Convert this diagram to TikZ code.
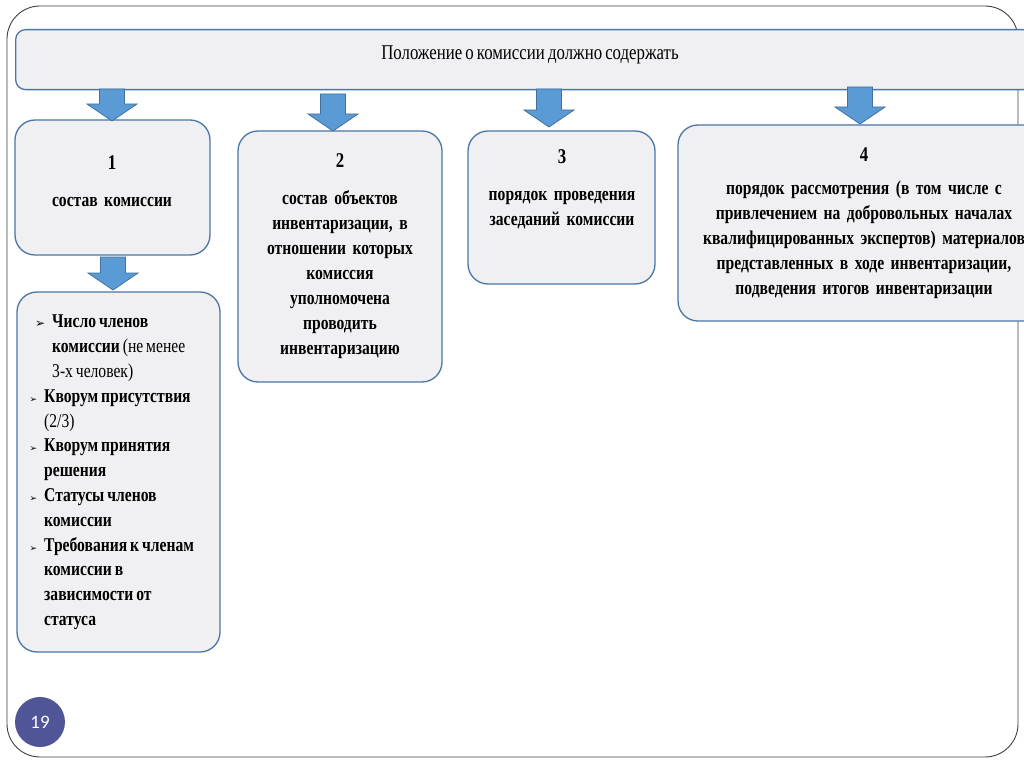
\documentclass[tikz,border=0pt]{standalone}
\usepackage{fontspec}
\setmainfont{Liberation Serif}
\newfontfamily\tnr[FakeStretch=0.8,WordSpace=0.75]{Liberation Serif}
\newfontfamily\bulletfont{DejaVu Sans}
\newfontfamily\numfont{Carlito}
\definecolor{boxfill}{HTML}{F0F0F2}
\definecolor{boxline}{HTML}{4A76A8}
\definecolor{arrfill}{HTML}{5B9BD5}
\definecolor{arrline}{HTML}{41719C}
\definecolor{frameline}{HTML}{404040}
\definecolor{pagecirc}{HTML}{4F5597}
\tikzset{
  card/.style={draw=boxline, line width=1.3pt, fill=boxfill, rounded corners=20pt},
  cardtext/.style={font=\tnr\bfseries\fontsize{19.5}{25}\selectfont, align=center, text width=#1},
  blockarr/.style={draw=arrline, line width=0.8pt, fill=arrfill},
}
\newcommand{\blockarrow}[3]{% x, ytop, ytip
  \draw[blockarr] (#1-12.5,#2) -- (#1+12.5,#2) -- (#1+12.5,#3-17) -- (#1+25,#3-17) -- (#1,#3) -- (#1-25,#3-17) -- (#1-12.5,#3-17) -- cycle;}
\newcommand{\bul}{\makebox[0pt][r]{{\bulletfont\fontsize{9}{9}\selectfont ➢}\hspace{7pt}}}
\newcommand{\num}[1]{{\fontsize{21}{25}\selectfont #1}}
\begin{document}
\begin{tikzpicture}[x=1pt,y=-1pt]
\useasboundingbox (0,0) rectangle (1024,767);
\fill[white] (0,0) rectangle (1024,767);
% outer frame
\draw[frameline, line width=0.9pt, rounded corners=33pt] (7,6) rectangle (1018,757);
% banner
\node[draw=boxline, line width=1.3pt, fill=boxfill, rounded corners=10pt, minimum width=1040pt, minimum height=60pt, anchor=north west] (head) at (15,29) {};
\node[font=\tnr\fontsize{21}{22}\selectfont] (headtext) at (530,55) {Положение о комиссии должно содержать};
% cards
\draw[card] (15,120) rectangle (210,255);
\node[cardtext=190pt] (t1) at (112,181) {\num{1}\\[12pt]состав комиссии};
\draw[card] (238,131) rectangle (442,382);
\node[cardtext=200pt] (t2) at (340,256) {\num{2}\\[12pt]состав объектов\\инвентаризации, в\\отношении которых\\комиссия\\уполномочена\\проводить\\инвентаризацию};
\draw[card] (468,131) rectangle (655,284);
\node[cardtext=185pt] (t3) at (562,189) {\num{3}\\[12pt]порядок проведения\\заседаний комиссии};
\draw[card] (678,125) rectangle (1060,321);
\node[cardtext=360pt] (t4) at (864,223) {\num{4}\\[8pt]порядок рассмотрения (в том числе с\\привлечением на добровольных началах\\квалифицированных экспертов) материалов\\представленных в ходе инвентаризации,\\подведения итогов инвентаризации};
\draw[card] (17,292) rectangle (220,652);
\node[font=\tnr\bfseries\fontsize{19.5}{24.8}\selectfont, align=left, anchor=north west, inner sep=0pt] (t5) at (44,315) {%
\hspace{8pt}\makebox[0pt][r]{{\bulletfont\fontsize{12}{12}\selectfont ➢}\hspace{7pt}}Число членов\\
\hspace{8pt}комиссии {\mdseries (не менее}\\
\hspace{8pt}{\mdseries 3-х человек)}\\
\bul Кворум присутствия\\
{\mdseries (2/3)}\\
\bul Кворум принятия\\
решения\\
\bul Статусы членов\\
комиссии\\
\bul Требования к членам\\
комиссии в\\
зависимости от\\
статуса};
% block arrows
\blockarrow{112}{89}{121}
\blockarrow{333}{94}{131}
\blockarrow{549}{89}{127}
\blockarrow{860}{87}{124}
\blockarrow{113}{257}{290}
% page number
\node[circle, fill=pagecirc, minimum size=50pt, text=white, font=\numfont\fontsize{19}{20}\selectfont] (pg) at (40,722) {19};
\end{tikzpicture}
\end{document}
